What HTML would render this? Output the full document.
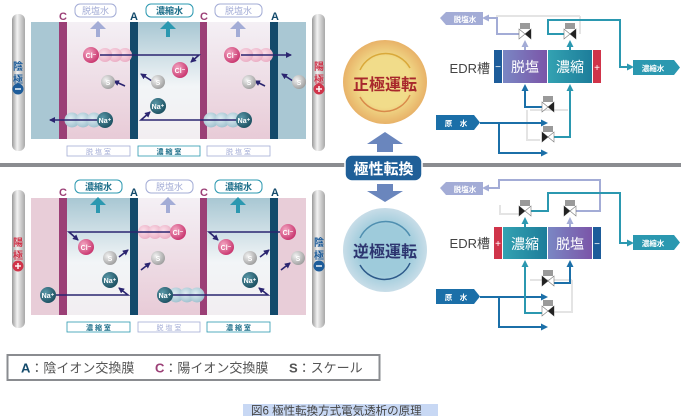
<!DOCTYPE html>
<html><head><meta charset="utf-8"><style>
html,body{margin:0;padding:0;background:#fff;width:681px;height:416px;overflow:hidden}
svg{display:block;font-family:"Liberation Sans","Noto Sans CJK JP",sans-serif}
</style></head><body>
<svg width="681" height="416" viewBox="0 0 681 416" xmlns="http://www.w3.org/2000/svg">
<defs>
<linearGradient id="desal" x1="0" y1="0" x2="0" y2="1"><stop offset="0" stop-color="#f4f0f5"/><stop offset="1" stop-color="#e8cbd7"/></linearGradient>
<linearGradient id="conc" x1="0" y1="0" x2="0" y2="1"><stop offset="0" stop-color="#a8c7d3"/><stop offset="0.55" stop-color="#f2f5f7"/><stop offset="1" stop-color="#f2eef1"/></linearGradient>
<linearGradient id="elec" x1="0" y1="0" x2="1" y2="0"><stop offset="0" stop-color="#9a9a9a"/><stop offset="0.4" stop-color="#f2f2f2"/><stop offset="1" stop-color="#a8a8a8"/></linearGradient>
<radialGradient id="cl" cx="0.35" cy="0.35" r="0.7"><stop offset="0" stop-color="#f3a6c2"/><stop offset="1" stop-color="#c8336d"/></radialGradient>
<radialGradient id="na" cx="0.35" cy="0.35" r="0.7"><stop offset="0" stop-color="#5a98a8"/><stop offset="1" stop-color="#1b4f60"/></radialGradient>
<radialGradient id="s" cx="0.35" cy="0.35" r="0.7"><stop offset="0" stop-color="#f2f2f2"/><stop offset="1" stop-color="#9d9d9d"/></radialGradient>
<radialGradient id="clt" cx="0.4" cy="0.4" r="0.7"><stop offset="0" stop-color="#fbe0ea"/><stop offset="1" stop-color="#e9a8c0"/></radialGradient>
<radialGradient id="nat" cx="0.4" cy="0.4" r="0.7"><stop offset="0" stop-color="#dfedf2"/><stop offset="1" stop-color="#98bccb"/></radialGradient>
<radialGradient id="yel" cx="0.5" cy="0.5" r="0.5"><stop offset="0.6" stop-color="#f1dc8a"/><stop offset="1" stop-color="#e8b268"/></radialGradient>
<radialGradient id="blu" cx="0.5" cy="0.5" r="0.5"><stop offset="0.6" stop-color="#9ecbdb"/><stop offset="1" stop-color="#c8dde8"/></radialGradient>
<linearGradient id="dsbox" x1="0" y1="0" x2="1" y2="0"><stop offset="0" stop-color="#7a87c4"/><stop offset="1" stop-color="#7b55a8"/></linearGradient>
<linearGradient id="ccbox" x1="0" y1="0" x2="1" y2="0"><stop offset="0" stop-color="#33a2b2"/><stop offset="1" stop-color="#1d7d9a"/></linearGradient>
<marker id="ah" markerWidth="6" markerHeight="6" refX="5" refY="3" orient="auto" markerUnits="userSpaceOnUse"><path d="M0,0 L6,3 L0,6z" fill="#2b2570"/></marker>
<marker id="ab" markerWidth="7" markerHeight="7" refX="5" refY="3.5" orient="auto" markerUnits="userSpaceOnUse"><path d="M0,0 L7,3.5 L0,7z" fill="#1b6fa8"/></marker>
<marker id="at" markerWidth="7" markerHeight="7" refX="5" refY="3.5" orient="auto" markerUnits="userSpaceOnUse"><path d="M0,0 L7,3.5 L0,7z" fill="#2b98b0"/></marker>
<marker id="al" markerWidth="7" markerHeight="7" refX="5" refY="3.5" orient="auto" markerUnits="userSpaceOnUse"><path d="M0,0 L7,3.5 L0,7z" fill="#a3acd6"/></marker>
<g id="valve"><rect x="-5" y="-11" width="10" height="6" fill="#9a9a9a"/><path d="M-6,-5 L6,5 L6,-5 L-6,5z" fill="#fff" stroke="#777" stroke-width="0.6"/><path d="M0,0 L6,-5 L6,5z" fill="#222"/></g>
<g id="valveL"><rect x="-5" y="-11" width="10" height="6" fill="#9a9a9a"/><path d="M-6,-5 L6,5 L6,-5 L-6,5z" fill="#fff" stroke="#777" stroke-width="0.6"/><path d="M0,0 L-6,-5 L-6,5z" fill="#222"/></g>
</defs>

<rect x="0" y="163" width="681" height="4" fill="#8a8c90"/>

<!-- ===== TOP PANEL ===== -->
<g>
<rect x="12" y="14" width="13" height="137" rx="6" fill="url(#elec)"/>
<rect x="312" y="14" width="13" height="137" rx="6" fill="url(#elec)"/>
<rect x="31" y="22" width="275" height="117" fill="#a9c7d3"/>
<rect x="67" y="22" width="63" height="117" fill="url(#desal)"/>
<rect x="138" y="22" width="62" height="117" fill="url(#conc)"/>
<rect x="207" y="22" width="63" height="117" fill="url(#desal)"/>
<rect x="59" y="22" width="8" height="117" fill="#9b3f76"/>
<rect x="130" y="22" width="8" height="117" fill="#134a6b"/>
<rect x="200" y="22" width="7" height="117" fill="#9b3f76"/>
<rect x="270" y="22" width="8" height="117" fill="#134a6b"/>
<g font-weight="bold" font-size="11"><text x="59" y="20" fill="#9b3f76">C</text><text x="130" y="20" fill="#134a6b">A</text><text x="200" y="20" fill="#9b3f76">C</text><text x="271" y="20" fill="#134a6b">A</text></g>
<rect x="75" y="4" width="41" height="13" rx="5" fill="#fff" stroke="#a3acd6"/><text x="95.5" y="14" font-size="9" text-anchor="middle" fill="#a3acd6">脱塩水</text>
<rect x="146" y="4" width="47" height="13" rx="5" fill="#fff" stroke="#2b98b0"/><text x="169.5" y="14" font-size="9" text-anchor="middle" fill="#1d6f8a" font-weight="bold">濃縮水</text>
<rect x="215" y="4" width="47" height="13" rx="5" fill="#fff" stroke="#a3acd6"/><text x="238.5" y="14" font-size="9" text-anchor="middle" fill="#a3acd6">脱塩水</text>
<path d="M102,37 v-8 h-6 l8,-8 l8,8 h-6 v8z" fill="#a3acd6" transform="translate(-6 0)"/>
<path d="M166,37 v-8 h-6 l8,-8 l8,8 h-6 v8z" fill="#2b98b0"/>
<path d="M236,37 v-8 h-6 l8,-8 l8,8 h-6 v8z" fill="#a3acd6"/>
<text x="18" y="70" font-size="10" font-weight="bold" fill="#1d5c9a" text-anchor="middle">陰</text>
<text x="18" y="83" font-size="10" font-weight="bold" fill="#1d5c9a" text-anchor="middle">極</text>
<circle cx="18" cy="89" r="5.5" fill="#1d5c9a"/><rect x="15" y="88.3" width="6" height="1.4" fill="#fff"/>
<text x="319" y="70" font-size="10" font-weight="bold" fill="#d0344a" text-anchor="middle">陽</text>
<text x="319" y="83" font-size="10" font-weight="bold" fill="#d0344a" text-anchor="middle">極</text>
<circle cx="319" cy="89" r="5.5" fill="#d0344a"/><rect x="316" y="88.3" width="6" height="1.4" fill="#fff"/><rect x="318.3" y="86" width="1.4" height="6" fill="#fff"/>
<g fill="url(#clt)"><circle cx="125" cy="55" r="7"/><circle cx="115" cy="55" r="7"/><circle cx="105" cy="55" r="7"/><circle cx="266" cy="55" r="7"/><circle cx="256" cy="55" r="7"/><circle cx="246" cy="55" r="7"/></g>
<g fill="url(#nat)"><circle cx="72" cy="120" r="7.5"/><circle cx="83" cy="120" r="7.5"/><circle cx="94" cy="120" r="7.5"/><circle cx="211" cy="120" r="7.5"/><circle cx="222" cy="120" r="7.5"/><circle cx="233" cy="120" r="7.5"/></g>
<g stroke="#2b2570" stroke-width="1.6" fill="none">
<path d="M100,55 H199 L191,62" marker-end="url(#ah)"/>
<path d="M241,55 H291" marker-end="url(#ah)"/>
<path d="M125,86 L114,81" marker-end="url(#ah)"/>
<path d="M152,81 L141,74" marker-end="url(#ah)"/>
<path d="M265,86 L255,81" marker-end="url(#ah)"/>
<path d="M293,81 L282,74" marker-end="url(#ah)"/>
<path d="M98,120 H50" marker-end="url(#ah)"/>
<path d="M238,120 H141 L150,112" marker-end="url(#ah)"/>
</g>
<g font-size="7" fill="#fff" text-anchor="middle" font-weight="bold">
<circle cx="91" cy="55" r="8" fill="url(#cl)"/><text x="91" y="58">Cl⁻</text>
<circle cx="180" cy="70" r="8" fill="url(#cl)"/><text x="180" y="73">Cl⁻</text>
<circle cx="232" cy="55" r="8" fill="url(#cl)"/><text x="232" y="58">Cl⁻</text>
<circle cx="108" cy="82" r="7" fill="url(#s)"/><text x="108" y="85">S</text>
<circle cx="158" cy="82" r="7" fill="url(#s)"/><text x="158" y="85">S</text>
<circle cx="249" cy="82" r="7" fill="url(#s)"/><text x="249" y="85">S</text>
<circle cx="299" cy="82" r="7" fill="url(#s)"/><text x="299" y="85">S</text>
<circle cx="158" cy="106" r="8" fill="url(#na)"/><text x="158" y="109">Na⁺</text>
<circle cx="105" cy="120" r="8" fill="url(#na)"/><text x="105" y="123">Na⁺</text>
<circle cx="244" cy="120" r="8" fill="url(#na)"/><text x="244" y="123">Na⁺</text>
</g>
<g font-size="7" text-anchor="middle">
<rect x="67" y="146" width="63" height="10" fill="#fff" stroke="#a3acd6" stroke-width="0.8"/><text x="98.5" y="154" fill="#a3acd6">脱 塩 室</text>
<rect x="138" y="146" width="62" height="10" fill="#fff" stroke="#2b98b0" stroke-width="0.8"/><text x="169" y="154" fill="#1d6f8a" font-weight="bold">濃 縮 室</text>
<rect x="207" y="146" width="63" height="10" fill="#fff" stroke="#a3acd6" stroke-width="0.8"/><text x="238.5" y="154" fill="#a3acd6">脱 塩 室</text>
</g>
</g>

<!-- ===== BOTTOM PANEL ===== -->
<g>
<rect x="12" y="190" width="13" height="138" rx="6" fill="url(#elec)"/>
<rect x="312" y="190" width="13" height="138" rx="6" fill="url(#elec)"/>
<rect x="31" y="198" width="275" height="117" fill="#e8cdd8"/>
<rect x="67" y="198" width="63" height="117" fill="url(#conc)"/>
<rect x="138" y="198" width="62" height="117" fill="url(#desal)"/>
<rect x="207" y="198" width="63" height="117" fill="url(#conc)"/>
<rect x="59" y="198" width="8" height="117" fill="#9b3f76"/>
<rect x="130" y="198" width="8" height="117" fill="#134a6b"/>
<rect x="200" y="198" width="7" height="117" fill="#9b3f76"/>
<rect x="270" y="198" width="8" height="117" fill="#134a6b"/>
<g font-weight="bold" font-size="11"><text x="59" y="196" fill="#9b3f76">C</text><text x="130" y="196" fill="#134a6b">A</text><text x="200" y="196" fill="#9b3f76">C</text><text x="271" y="196" fill="#134a6b">A</text></g>
<rect x="75" y="180" width="47" height="13" rx="5" fill="#fff" stroke="#2b98b0"/><text x="98.5" y="190" font-size="9" text-anchor="middle" fill="#1d6f8a" font-weight="bold">濃縮水</text>
<rect x="146" y="180" width="47" height="13" rx="5" fill="#fff" stroke="#a3acd6"/><text x="169.5" y="190" font-size="9" text-anchor="middle" fill="#a3acd6">脱塩水</text>
<rect x="215" y="180" width="47" height="13" rx="5" fill="#fff" stroke="#2b98b0"/><text x="238.5" y="190" font-size="9" text-anchor="middle" fill="#1d6f8a" font-weight="bold">濃縮水</text>
<path d="M96,213 v-8 h-6 l8,-8 l8,8 h-6 v8z" fill="#2b98b0"/>
<path d="M166,213 v-8 h-6 l8,-8 l8,8 h-6 v8z" fill="#a3acd6"/>
<path d="M236,213 v-8 h-6 l8,-8 l8,8 h-6 v8z" fill="#2b98b0"/>
<text x="18" y="246" font-size="10" font-weight="bold" fill="#d0344a" text-anchor="middle">陽</text>
<text x="18" y="259" font-size="10" font-weight="bold" fill="#d0344a" text-anchor="middle">極</text>
<circle cx="18" cy="266" r="5.5" fill="#d0344a"/><rect x="15" y="265.3" width="6" height="1.4" fill="#fff"/><rect x="17.3" y="263" width="1.4" height="6" fill="#fff"/>
<text x="319" y="246" font-size="10" font-weight="bold" fill="#1d5c9a" text-anchor="middle">陰</text>
<text x="319" y="259" font-size="10" font-weight="bold" fill="#1d5c9a" text-anchor="middle">極</text>
<circle cx="319" cy="266" r="5.5" fill="#1d5c9a"/><rect x="316" y="265.3" width="6" height="1.4" fill="#fff"/>
<g fill="url(#clt)"><circle cx="145" cy="232" r="7"/><circle cx="155" cy="232" r="7"/><circle cx="165" cy="232" r="7"/></g>
<g fill="url(#nat)"><circle cx="176" cy="295" r="7.5"/><circle cx="187" cy="295" r="7.5"/><circle cx="197" cy="295" r="7.5"/></g>
<g stroke="#2b2570" stroke-width="1.6" fill="none">
<path d="M170,232 H69 L78,240" marker-end="url(#ah)"/>
<path d="M280,232 H209 L218,240" marker-end="url(#ah)"/>
<path d="M119,257 L128,250" marker-end="url(#ah)"/>
<path d="M141,270 L150,263" marker-end="url(#ah)"/>
<path d="M260,257 L269,250" marker-end="url(#ah)"/>
<path d="M281,270 L290,263" marker-end="url(#ah)"/>
<path d="M56,295 H128 L119,288" marker-end="url(#ah)"/>
<path d="M172,295 H268 L259,288" marker-end="url(#ah)"/>
</g>
<g font-size="7" fill="#fff" text-anchor="middle" font-weight="bold">
<circle cx="178" cy="232" r="8" fill="url(#cl)"/><text x="178" y="235">Cl⁻</text>
<circle cx="86" cy="247" r="8" fill="url(#cl)"/><text x="86" y="250">Cl⁻</text>
<circle cx="288" cy="232" r="8" fill="url(#cl)"/><text x="288" y="235">Cl⁻</text>
<circle cx="226" cy="247" r="8" fill="url(#cl)"/><text x="226" y="250">Cl⁻</text>
<circle cx="110" cy="258" r="7" fill="url(#s)"/><text x="110" y="261">S</text>
<circle cx="158" cy="258" r="7" fill="url(#s)"/><text x="158" y="261">S</text>
<circle cx="250" cy="258" r="7" fill="url(#s)"/><text x="250" y="261">S</text>
<circle cx="298" cy="258" r="7" fill="url(#s)"/><text x="298" y="261">S</text>
<circle cx="110" cy="280" r="8" fill="url(#na)"/><text x="110" y="283">Na⁺</text>
<circle cx="48" cy="295" r="8" fill="url(#na)"/><text x="48" y="298">Na⁺</text>
<circle cx="250" cy="280" r="8" fill="url(#na)"/><text x="250" y="283">Na⁺</text>
<circle cx="165" cy="295" r="8" fill="url(#na)"/><text x="165" y="298">Na⁺</text>
</g>
<g font-size="7" text-anchor="middle">
<rect x="67" y="322" width="63" height="10" fill="#fff" stroke="#2b98b0" stroke-width="0.8"/><text x="98.5" y="330" fill="#1d6f8a" font-weight="bold">濃 縮 室</text>
<rect x="138" y="322" width="62" height="10" fill="#fff" stroke="#a3acd6" stroke-width="0.8"/><text x="169" y="330" fill="#a3acd6">脱 塩 室</text>
<rect x="207" y="322" width="63" height="10" fill="#fff" stroke="#2b98b0" stroke-width="0.8"/><text x="238.5" y="330" fill="#1d6f8a" font-weight="bold">濃 縮 室</text>
</g>
</g>

<!-- ===== CENTER ===== -->
<circle cx="385" cy="82" r="42" fill="url(#yel)"/>
<path d="M360,70 A28,28 0 0 1 410,68" fill="none" stroke="#d9a93a" stroke-width="1.5"/>
<path d="M410,95 A28,28 0 0 1 360,97" fill="none" stroke="#d98a4a" stroke-width="1.5"/>
<text x="385" y="90" font-size="16" font-weight="bold" fill="#a8282c" text-anchor="middle">正極運転</text>
<path d="M377,152 v-8 h-10 l18,-12 l18,12 h-10 v8z" fill="#6a86bd"/>
<rect x="345" y="155" width="77" height="26" rx="7" fill="#1f5f98" stroke="#fff" stroke-width="1.5"/>
<text x="383.5" y="174" font-size="15" font-weight="bold" fill="#fff" text-anchor="middle">極性転換</text>
<path d="M377,184 v7 h-10 l18,11 l18,-11 h-10 v-7z" fill="#6a86bd"/>
<circle cx="385" cy="250" r="42" fill="url(#blu)"/>
<path d="M360,238 A28,28 0 0 1 410,236" fill="none" stroke="#4f8fb0" stroke-width="1.5"/>
<path d="M410,263 A28,28 0 0 1 360,265" fill="none" stroke="#2d5a8a" stroke-width="1.5"/>
<text x="385" y="257" font-size="16" font-weight="bold" fill="#2d3570" text-anchor="middle">逆極運転</text>

<!-- ===== RIGHT TOP ===== -->
<g fill="none" stroke-width="2">
<path d="M497,34 V16 H580" stroke="#e4e4e4"/>
<path d="M580,16 V34" stroke="#e4e4e4"/>
<path d="M530,110 H568" stroke="#e4e4e4"/>
<path d="M527,110 V140 H540" stroke="#e4e4e4"/>
<path d="M519,34 H497 V18 H484" stroke="#a3acd6" marker-end="url(#al)"/>
<path d="M525,50 V42" stroke="#a3acd6" marker-end="url(#al)"/>
<path d="M564,34 H548 V20 H620 V67 H632" stroke="#2b98b0" marker-end="url(#at)"/>
<path d="M570,50 V42" stroke="#2b98b0" marker-end="url(#at)"/>
<path d="M480,123 H546" stroke="#1b6fa8" marker-end="url(#ab)"/>
<path d="M499,123 V153 H546" stroke="#1b6fa8" marker-end="url(#ab)"/>
<path d="M542,107 H525 V86" stroke="#1b6fa8" marker-end="url(#ab)"/>
<path d="M554,137 H570 V86" stroke="#2b98b0" marker-end="url(#at)"/>
</g>
<use href="#valve" x="525" y="34"/><use href="#valve" x="570" y="34"/>
<use href="#valve" x="548" y="107"/><use href="#valveL" x="548" y="137"/>
<path d="M440,18 L446,12 H483 V25 H446z" fill="#a3acd6"/><text x="465" y="22" font-size="7.5" font-weight="bold" fill="#fff" text-anchor="middle">脱塩水</text>
<text x="490" y="73" font-size="13" fill="#444" text-anchor="end">EDR槽</text>
<rect x="494" y="50" width="8" height="33" fill="#1d5c9a"/><text x="498" y="70" font-size="10" fill="#fff" text-anchor="middle">−</text>
<rect x="503" y="50" width="44" height="33" fill="url(#dsbox)"/><text x="525" y="72" font-size="14" fill="#fff" text-anchor="middle">脱塩</text>
<rect x="548" y="50" width="44" height="33" fill="url(#ccbox)"/><text x="570" y="72" font-size="14" fill="#fff" text-anchor="middle">濃縮</text>
<rect x="593" y="50" width="8" height="33" fill="#d0344a"/><text x="597" y="71" font-size="10" fill="#fff" text-anchor="middle">+</text>
<path d="M633,60 H674 L680,67.5 L674,75 H633z" fill="#2b98b0"/><text x="653" y="71" font-size="7.5" font-weight="bold" fill="#fff" text-anchor="middle">濃縮水</text>
<path d="M436,115 H474 L480,122.5 L474,130 H436z" fill="#1b6fa8"/><text x="456" y="126" font-size="7.5" font-weight="bold" fill="#fff" text-anchor="middle">原　水</text>

<!-- ===== RIGHT BOTTOM ===== -->
<g fill="none" stroke-width="2">
<path d="M500,205 V214 H519" stroke="#e4e4e4"/>
<path d="M530,280 H572" stroke="#e4e4e4"/>
<path d="M572,280 V312 H554" stroke="#e4e4e4"/>
<path d="M576,211 H600 V180 H499 V188 H484" stroke="#a3acd6" marker-end="url(#al)"/>
<path d="M570,227 V219" stroke="#a3acd6" marker-end="url(#al)"/>
<path d="M531,211 H548 V193 H620 V243 H632" stroke="#2b98b0" marker-end="url(#at)"/>
<path d="M525,227 V219" stroke="#2b98b0" marker-end="url(#at)"/>
<path d="M480,297 H546" stroke="#1b6fa8" marker-end="url(#ab)"/>
<path d="M499,297 V327 H546" stroke="#1b6fa8" marker-end="url(#ab)"/>
<path d="M554,283 H570 V262" stroke="#1b6fa8" marker-end="url(#ab)"/>
<path d="M542,313 H525 V262" stroke="#2b98b0" marker-end="url(#at)"/>
</g>
<use href="#valveL" x="525" y="211"/><use href="#valveL" x="570" y="211"/>
<use href="#valveL" x="548" y="281"/><use href="#valve" x="548" y="311"/>
<path d="M440,188 L446,182 H483 V195 H446z" fill="#a3acd6"/><text x="465" y="192" font-size="7.5" font-weight="bold" fill="#fff" text-anchor="middle">脱塩水</text>
<text x="490" y="248" font-size="13" fill="#444" text-anchor="end">EDR槽</text>
<rect x="494" y="227" width="8" height="32" fill="#d0344a"/><text x="498" y="247" font-size="10" fill="#fff" text-anchor="middle">+</text>
<rect x="503" y="227" width="44" height="32" fill="url(#ccbox)"/><text x="525" y="249" font-size="14" fill="#fff" text-anchor="middle">濃縮</text>
<rect x="548" y="227" width="44" height="32" fill="url(#dsbox)"/><text x="570" y="249" font-size="14" fill="#fff" text-anchor="middle">脱塩</text>
<rect x="593" y="227" width="8" height="32" fill="#1d5c9a"/><text x="597" y="247" font-size="10" fill="#fff" text-anchor="middle">−</text>
<path d="M633,235 H674 L680,242.5 L674,250 H633z" fill="#2b98b0"/><text x="653" y="246" font-size="7.5" font-weight="bold" fill="#fff" text-anchor="middle">濃縮水</text>
<path d="M436,289 H474 L480,296.5 L474,304 H436z" fill="#1b6fa8"/><text x="456" y="300" font-size="7.5" font-weight="bold" fill="#fff" text-anchor="middle">原　水</text>

<!-- legend -->
<rect x="7.5" y="355" width="372" height="25" fill="#fff" stroke="#8a8c90" stroke-width="2"/>
<text x="21" y="372.5" font-size="13" fill="#555"><tspan fill="#134a6b" font-weight="bold">A</tspan>：陰イオン交換膜<tspan x="155" fill="#9b3f76" font-weight="bold">C</tspan>：陽イオン交換膜<tspan x="289" font-weight="bold">S</tspan>：スケール</text>
<rect x="243" y="404" width="195" height="12" fill="#c8d8f4"/>
<text x="251" y="414.5" font-size="11.5" fill="#444">図6 極性転換方式電気透析の原理</text>
</svg>
</body></html>
